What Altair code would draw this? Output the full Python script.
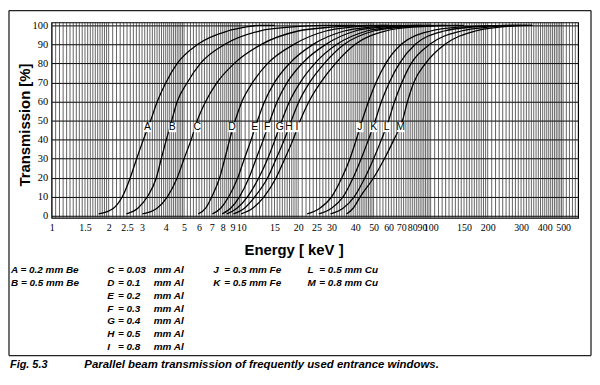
import altair as alt
import pandas as pd

# ---------------- data ----------------
T_LEVELS = [1, 4, 10, 20, 30, 40, 50, 60, 70, 80, 90, 97, 99, 100]

CURVE_NAMES = ["A", "B", "C", "D", "E", "F", "G", "H", "I", "J", "K", "L", "M"]
E_A = [1.77, 2.12, 2.36, 2.6, 2.81, 3.05, 3.33, 3.61, 4.01, 4.6, 5.9, 8.5, 10.5, 12.5]
E_B = [2.48, 2.85, 3.2, 3.57, 3.79, 4.03, 4.3, 4.6, 5.2, 6.1, 8.2, 12.5, 18, 27]
E_C = [3.01, 3.6, 4.08, 4.6, 5.0, 5.45, 5.87, 6.5, 7.47, 9.2, 12.8, 20, 30, 48]
E_D = [5.94, 6.5, 7.0, 7.7, 8.2, 8.7, 9.3, 10.1, 11.5, 13.8, 19, 28, 38, 55]
E_E = [7.05, 7.8, 8.6, 9.6, 10.4, 11.3, 12.2, 13.3, 15, 18, 24, 35, 48, 75]
E_F = [7.95, 8.8, 9.8, 11, 12, 13.1, 14.2, 15.5, 17.5, 21, 28, 40, 55, 85]
E_G = [8.4, 9.5, 10.8, 12.4, 13.8, 15.1, 16.4, 18, 20.5, 24.5, 32, 46, 62, 100]
E_H = [9.1, 10.4, 11.8, 13.8, 15.3, 16.9, 18.4, 20.2, 23, 27.5, 35, 50, 70, 120]
E_I = [10.0, 11.5, 13.2, 15.3, 17, 18.8, 20.5, 22.8, 26.3, 31.5, 40, 58, 80, 145]
E_J = [22.3, 26, 30, 34, 37.5, 40.5, 43.5, 47, 51.5, 58, 70, 100, 140, 250]
E_K = [25.7, 30, 34.5, 39, 43, 47, 51, 55, 60.5, 68.5, 83, 118, 165, 280]
E_L = [29.6, 34.5, 39.5, 45, 50, 55, 60, 64.5, 70.5, 79, 99, 145, 200, 320]
E_M = [36, 39, 42.5, 50, 57, 64, 71, 75.5, 81.5, 94, 119, 172, 230, 340]
END_E = [15, 40, 60, 70, 90, 100, 120, 140, 150, 300, 320, 340, 345]

LABEL_E = [3.2, 4.33, 5.87, 8.95, 11.8, 13.7, 16.0, 17.9, 19.7, 42.3, 50, 58.5, 69.3]
LABEL_T = 46.5

X_TICKS = [1, 1.5, 2, 2.5, 3, 4, 5, 6, 7, 8, 9, 10, 15, 20, 25, 30, 40, 50,
           60, 70, 80, 90, 100, 150, 200, 300, 400, 500]
Y_TICKS = [0, 10, 20, 30, 40, 50, 60, 70, 80, 90, 100]

LEG1 = ["A = 0.2 mm Be", "B = 0.5 mm Be"]
LEG2_L = ["C", "D", "E", "F", "G", "H", "I"]
LEG2_V = ["=  0.03", "=  0.1", "=  0.2", "=  0.3", "=  0.4", "=  0.5", "=  0.8"]
LEG2_U = ["mm Al"] * 7
LEG3_L = ["J", "K"]
LEG3_V = ["=  0.3 mm Fe", "=  0.5 mm Fe"]
LEG4_L = ["L", "M"]
LEG4_V = ["=  0.5 mm Cu", "=  0.8 mm Cu"]
CAPTION_1 = "Fig. 5.3"
CAPTION_2 = "Parallel beam transmission of frequently used entrance windows."

# ---------------- tables ----------------
all_e = [E_A, E_B, E_C, E_D, E_E, E_F, E_G, E_H, E_I, E_J, E_K, E_L, E_M]
rows = []
for name, es, end in zip(CURVE_NAMES, all_e, END_E):
    for i, (e, t) in enumerate(zip(es, T_LEVELS)):
        rows.append({"curve": name, "E": e, "T": t, "o": i})
    rows.append({"curve": name, "E": end, "T": 100, "o": len(es)})
curves = pd.DataFrame(rows)

labels = pd.DataFrame({"letter": CURVE_NAMES, "E": LABEL_E, "T": [LABEL_T] * len(CURVE_NAMES)})

grid_vals = []
for dec in [1, 10, 100]:
    v = 1.0
    while v < 2.0 - 1e-9:
        grid_vals.append(round(v * dec, 6)); v += 0.05
    v = 2.0
    while v < 5.0 - 1e-9:
        grid_vals.append(round(v * dec, 6)); v += 0.1
    v = 5.0
    while v < 10.0 - 1e-9:
        grid_vals.append(round(v * dec, 6)); v += 0.2
grid_vals = [g for g in grid_vals if g <= 595]
grid = pd.DataFrame({"E": grid_vals})

xs = alt.Scale(type="log", domain=[1, 600], nice=False)
ys = alt.Scale(domain=[-1, 101.5], nice=False)

SERIF = "Liberation Serif"
SANS = "Liberation Sans"

x_axis = alt.Axis(
    values=X_TICKS, format="~g", grid=False, ticks=False, domain=False,
    labelFont=SERIF, labelFontSize=10, labelColor="black", labelPadding=5,
    labelOverlap=False, labelFlush=False,
    title="Energy [ keV ]", titleFont=SANS, titleFontSize=15, titleFontWeight="bold",
    titleColor="black", titleX=244, titleY=32, titleBaseline="middle")
y_axis = alt.Axis(
    values=Y_TICKS, grid=True, gridColor="black", gridWidth=1, gridOpacity=1,
    ticks=False, domain=False, labelFont=SERIF, labelFontSize=10.5, labelColor="black",
    labelPadding=4,
    title="Transmission [%]", titleFont=SANS, titleFontSize=15, titleFontWeight="bold",
    titleColor="black", titleX=-27.5, titleY=103, titleBaseline="middle")

X = alt.X("E:Q", scale=xs, axis=x_axis)
Y = alt.Y("T:Q", scale=ys, axis=y_axis)

vgrid = alt.Chart(grid).mark_rule(color="#222", strokeWidth=0.7).encode(x=X)

lines = alt.Chart(curves).mark_line(color="black", strokeWidth=1.3, interpolate="monotone", clip=True).encode(
    x=X, y=Y, detail="curve:N", order="o:Q",
)

boxes = alt.Chart(labels).mark_point(
    shape="M-0.75,-1H0.75V1H-0.75Z", filled=True, color="white", opacity=1, size=100, strokeWidth=0
).encode(x=X, y=Y)

ltext = alt.Chart(labels).mark_text(font=SANS, fontSize=10.5, color="black").encode(
    x=X, y=Y, text="letter:N"
)

one = alt.Data(values=[{"k": 1}])

FL, FR, FT, FB = -43.0, 544.0, -12.0, 336
frame_style = dict(color="#222", strokeWidth=1.3)
frame = [
    alt.Chart(one).mark_rule(**frame_style).encode(x=alt.value(FL), x2=alt.value(FR), y=alt.value(FT)),
    alt.Chart(one).mark_rule(**frame_style).encode(x=alt.value(FL), x2=alt.value(FR), y=alt.value(FB)),
    alt.Chart(one).mark_rule(**frame_style).encode(x=alt.value(FL), y=alt.value(FT), y2=alt.value(FB)),
    alt.Chart(one).mark_rule(**frame_style).encode(x=alt.value(FR), y=alt.value(FT), y2=alt.value(FB)),
]

LH = 12.9
Y0 = 266 - 21  # top of first legend row (plot coords)


def block(lines_, xpix, ypix=Y0, size=10):
    return alt.Chart(one).mark_text(
        font=SANS, fontSize=size, fontStyle="italic", fontWeight="bold", color="black",
        align="left", baseline="top", lineHeight=LH
    ).encode(x=alt.value(xpix), y=alt.value(ypix), text=alt.value(lines_))


legend_layers = [
    block(LEG1, 11 - 52),
    block(LEG2_L, 108 - 52),
    block(LEG2_V, 119 - 52),
    block(LEG2_U, 155 - 52),
    block(LEG3_L, 215 - 52),
    block(LEG3_V, 226 - 52),
    block(LEG4_L, 310 - 52),
    block(LEG4_V, 322 - 52),
    block([CAPTION_1], 10 - 52, 340, 11),
    block([CAPTION_2], 85 - 52, 340, 11.5),
]

chart = alt.layer(vgrid, lines, boxes, ltext, *frame, *legend_layers).properties(
    width=531, height=197,
    padding={"left": 44, "top": 13, "right": 14, "bottom": 152},
    autosize=alt.AutoSizeParams(type="none"),
    background="white",
).configure_view(stroke="black", strokeWidth=1.2)

chart.save("out.html", embed_options={"renderer": "svg", "actions": False})
